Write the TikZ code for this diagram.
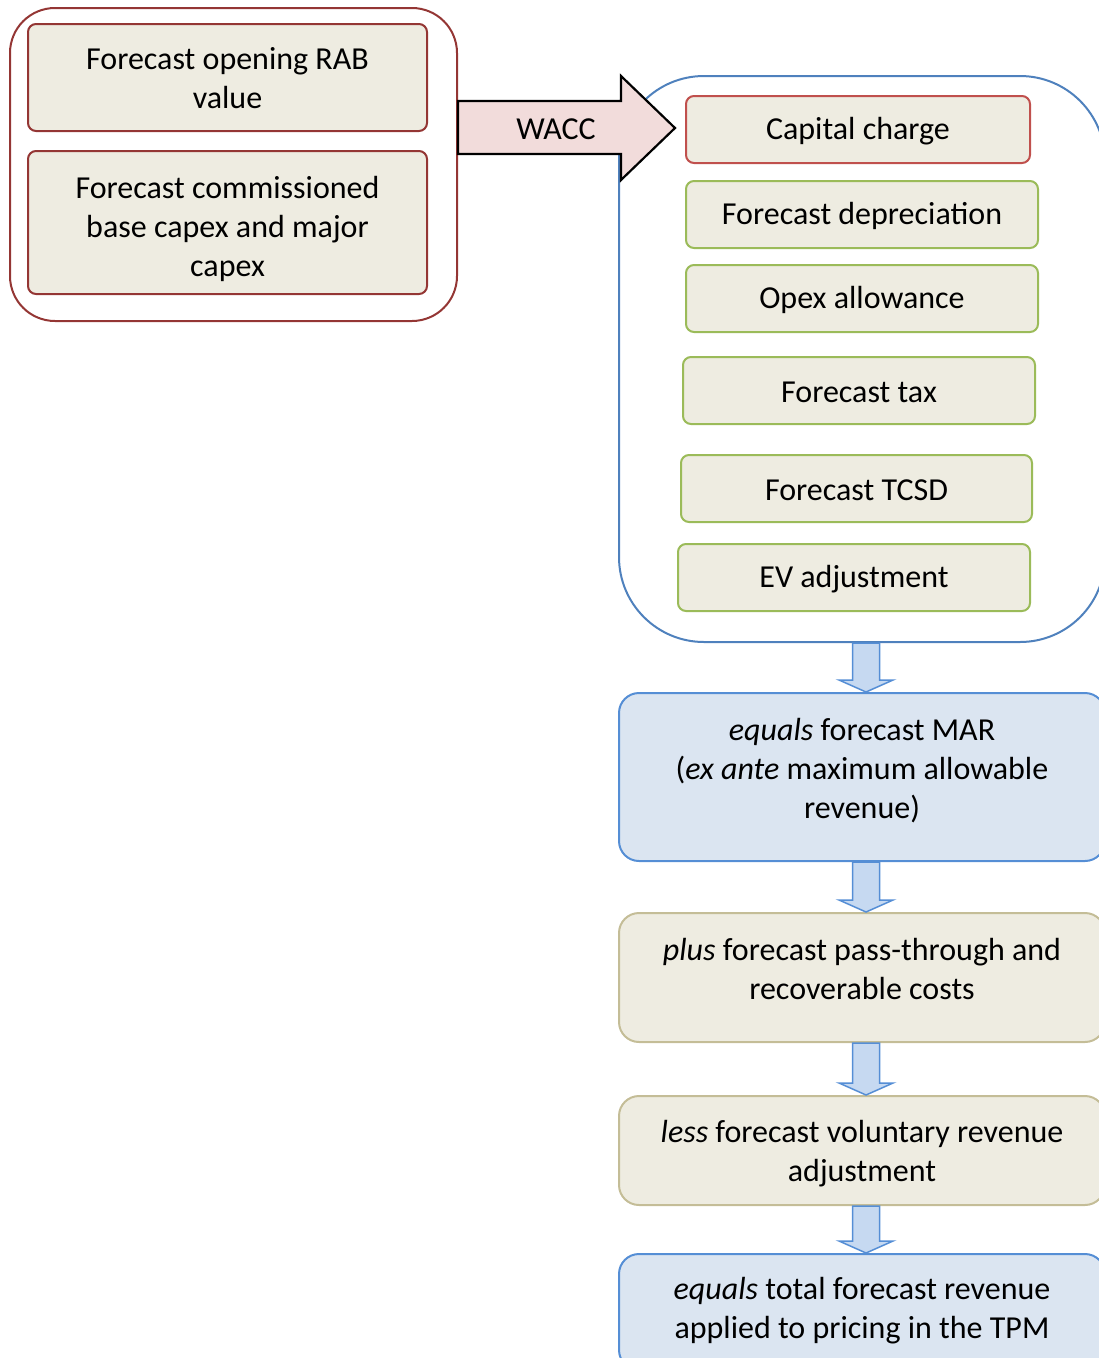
\documentclass[tikz,border=0pt]{standalone}
\usepackage{fontspec}
\setmainfont{Carlito}
\usetikzlibrary{calc}

\definecolor{paper}{HTML}{EEECE1}
\definecolor{darkred}{HTML}{943634}
\definecolor{accentred}{HTML}{C0504D}
\definecolor{accentgreen}{HTML}{9BBB59}
\definecolor{accentblue}{HTML}{4F81BD}
\definecolor{lightblue}{HTML}{DBE5F1}
\definecolor{midblue}{HTML}{558ED5}
\definecolor{arrowblue}{HTML}{C6D9F1}
\definecolor{tan}{HTML}{C4BD97}
\definecolor{pink}{HTML}{F2DCDB}

\tikzset{
  txt/.style={font=\fontsize{32}{39}\selectfont, align=center, inner sep=0pt},
  group/.style={draw, line width=2pt, inner sep=0pt},
  itembox/.style={draw, fill=paper, line width=2pt, rounded corners=8pt, inner sep=0pt},
  stagebox/.style={draw, line width=2pt, rounded corners=20pt, inner sep=0pt,
    minimum width=486pt},
  flowarrow/.style={draw=midblue, fill=arrowblue, line width=1.5pt, line join=miter},
  waccarrow/.style={draw=black, fill=pink, line width=2.2pt, line join=miter},
}

% block arrow pointing down from the bottom of #1 to the top of #2
\newcommand\flowdown[2]{%
  \draw[flowarrow] let \p1=(#1.south), \p2=(#2.north) in
    (\x1+4pt-13.5pt,\y1) -- (\x1+4pt+13.5pt,\y1) -- (\x1+4pt+13.5pt,\y2+12pt)
    -- (\x1+4pt+27pt,\y2+12pt) -- (\x1+4pt,\y2) -- (\x1+4pt-27pt,\y2+12pt)
    -- (\x1+4pt-13.5pt,\y2+12pt) -- cycle;}

\begin{document}
\begin{tikzpicture}[x=1pt,y=-1pt]
\useasboundingbox (0,0) rectangle (1099,1358);
\clip (0,0) rectangle (1099,1358);

% inputs
\node[group, draw=darkred, rounded corners=45pt, minimum width=447pt, minimum height=313pt]
  (inputs) at (233.5,164.5) {};
\node[itembox, draw=darkred, minimum width=399pt, minimum height=107pt] (rab) at (227.5,77.5) {};
\node[txt] (rabtxt) at (227.5,78) {Forecast opening RAB\\value};
\node[itembox, draw=darkred, minimum width=399pt, minimum height=143pt] (capex) at (227.5,222.5) {};
\node[txt] (capextxt) at (227.5,229) {Forecast commissioned\\base capex and major\\capex};

% building blocks
\node[group, draw=accentblue, rounded corners=85pt, minimum width=486pt, minimum height=566pt]
  (blocks) at (862,359) {};
\node[itembox, draw=accentred, minimum width=344pt, minimum height=67pt] (cap) at (858,129.5) {};
\node[txt] (captxt) at ($(cap)+(0,1.5)$) {Capital charge};
\node[itembox, draw=accentgreen, minimum width=352pt, minimum height=67pt] (dep) at (862,214.5) {};
\node[txt] (deptxt) at ($(dep)+(0,1.5)$) {Forecast depreciation};
\node[itembox, draw=accentgreen, minimum width=352pt, minimum height=67pt] (opex) at (862,298.5) {};
\node[txt] (opextxt) at ($(opex)+(0,1.5)$) {Opex allowance};
\node[itembox, draw=accentgreen, minimum width=352pt, minimum height=67pt] (tax) at (859,390.5) {};
\node[txt] (taxtxt) at ($(tax)+(0,1.5)$) {Forecast tax};
\node[itembox, draw=accentgreen, minimum width=351pt, minimum height=67pt] (tcsd) at (856.5,488.5) {};
\node[txt] (tcsdtxt) at ($(tcsd)+(0,1.5)$) {Forecast TCSD};
\node[itembox, draw=accentgreen, minimum width=352pt, minimum height=67pt] (ev) at (854,577.5) {};
\node[txt] (evtxt) at ($(ev)+(0,1.5)$) {EV adjustment};

% WACC arrow
\path (inputs.east |- cap.west) ++(0,-2) coordinate (wtail);
\draw[waccarrow] ($(wtail)+(0,-26.5)$) -- ++(163,0) -- ++(0,-25) -- ++(54,52)
  -- ++(-54,52) -- ++(0,-26) -- ++(-163,0) -- cycle;
\node[txt] (wacc) at ($(wtail)+(98,1.5)$) {WACC};

% revenue stages
\node[stagebox, draw=midblue, fill=lightblue, minimum height=168pt] (mar) at (862,777) {};
\node[txt] (martxt) at (862,771) {\textit{equals} forecast MAR\\(\textit{ex ante} maximum allowable\\revenue)};
\node[stagebox, draw=tan, fill=paper, minimum height=129pt] (pass) at (862,977.5) {};
\node[txt] (passtxt) at (862,969) {\textit{plus} forecast pass-through and\\recoverable costs};
\node[stagebox, draw=tan, fill=paper, minimum height=109pt] (vol) at (862,1150.5) {};
\node[txt] (voltxt) at (862,1154) {\textit{less} forecast voluntary revenue\\adjustment};
\node[stagebox, draw=midblue, fill=lightblue, minimum height=116pt] (total) at (862,1312) {};
\node[txt] (totaltxt) at (862,1311) {\textit{equals} total forecast revenue\\applied to pricing in the TPM};

\flowdown{blocks}{mar}
\flowdown{mar}{pass}
\flowdown{pass}{vol}
\flowdown{vol}{total}
\end{tikzpicture}
\end{document}
